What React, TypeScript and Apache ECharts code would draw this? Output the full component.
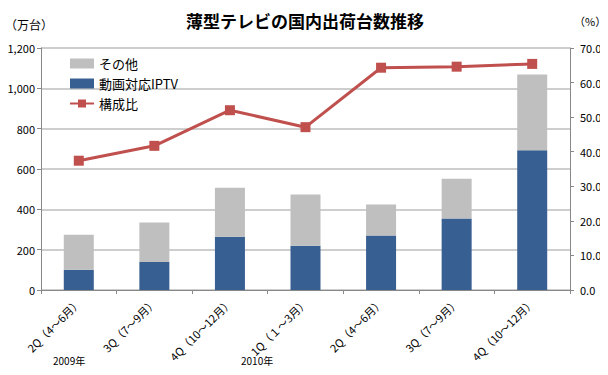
import React, { useEffect, useRef } from "react";
import * as echarts from "echarts";

const categories = ["2Q（4～6月）", "3Q（7～9月）", "4Q（10～12月）", "1Q（１～3月）", "2Q（4～6月）", "3Q（7～9月）", "4Q（10～12月）"];
const iptv = [100, 139, 264, 219, 270, 355, 693];
const totals = [274, 335, 507, 473, 424, 552, 1068];
const other = totals.map((t, i) => t - iptv[i]);
const ratio = [37.4, 41.7, 52.0, 47.1, 64.3, 64.6, 65.4];
const yearLabels = ["2009年", "2010年"];

const FONT = "'Noto Sans CJK JP', sans-serif";

export default function App() {
  const ref = useRef<HTMLDivElement>(null);
  useEffect(() => {
    const chart = echarts.init(ref.current!, undefined, { renderer: "svg" });
    chart.setOption({
      animation: false,
      textStyle: { fontFamily: FONT },
      title: {
        text: "薄型テレビの国内出荷台数推移",
        left: 300,
        top: 7,
        textAlign: "center",
        textStyle: { fontSize: 17, fontWeight: "bold", color: "#000", fontFamily: FONT },
      },
      legend: {
        orient: "vertical",
        left: 64,
        top: 52,
        itemGap: 7,
        itemWidth: 24,
        itemHeight: 10,
        textStyle: { fontSize: 13, color: "#000", fontFamily: FONT },
        data: [
          { name: "その他", icon: "rect" },
          { name: "動画対応IPTV", icon: "rect" },
          { name: "構成比" },
        ],
      },
      grid: { left: 41, right: 38, top: 48, bottom: 85 },
      xAxis: {
        type: "category",
        data: categories,
        boundaryGap: true,
        axisLine: { lineStyle: { color: "#888" } },
        axisTick: { show: true, alignWithLabel: false, length: 4, lineStyle: { color: "#888" } },
        axisLabel: { rotate: 45, fontSize: 11, color: "#000", interval: 0, margin: 10, fontFamily: FONT },
      },
      yAxis: [
        {
          type: "value",
          min: 0,
          max: 1200,
          interval: 200,
          position: "left",
          axisLine: { show: true, lineStyle: { color: "#888" } },
          axisTick: { show: true, length: 4, inside: false, lineStyle: { color: "#888" } },
          splitLine: { lineStyle: { color: "#BEBEBE", width: 1.5 } },
          axisLabel: {
            fontSize: 11,
            color: "#000",
            margin: 6,
            formatter: (v: number) => v.toLocaleString("en-US"),
          },
        },
        {
          type: "value",
          min: 0,
          max: 70,
          interval: 10,
          position: "right",
          axisLine: { show: true, lineStyle: { color: "#888" } },
          axisTick: { show: true, length: 4, lineStyle: { color: "#888" } },
          splitLine: { show: false },
          axisLabel: { fontSize: 11, color: "#000", margin: 10, formatter: (v: number) => v.toFixed(1) },
        },
      ],
      series: [
        {
          name: "動画対応IPTV",
          type: "bar",
          stack: "t",
          data: iptv,
          barWidth: 30,
          itemStyle: { color: "#375F91" },
        },
        {
          name: "その他",
          type: "bar",
          stack: "t",
          data: other,
          barWidth: 30,
          itemStyle: { color: "#BFBFBF" },
        },
        {
          name: "構成比",
          type: "line",
          yAxisIndex: 1,
          data: ratio,
          symbol: "rect",
          symbolSize: 10,
          lineStyle: { color: "#C0504D", width: 3 },
          itemStyle: { color: "#C0504D" },
        },
      ],
      graphic: [
        { type: "text", left: 5, top: 18, style: { text: "（万台）", fontSize: 12, fill: "#000", fontFamily: FONT } },
        { type: "text", left: 574, top: 15, style: { text: "（%）", fontSize: 11, fill: "#000", fontFamily: FONT } },
        { type: "text", left: 53, top: 355, style: { text: yearLabels[0], fontSize: 10, fill: "#000", fontFamily: FONT } },
        { type: "text", left: 241, top: 355, style: { text: yearLabels[1], fontSize: 10, fill: "#000", fontFamily: FONT } },
      ],
    });
    return () => chart.dispose();
  }, []);
  return <div ref={ref} style={{ width: 608, height: 375, margin: -8 }} />;
}
